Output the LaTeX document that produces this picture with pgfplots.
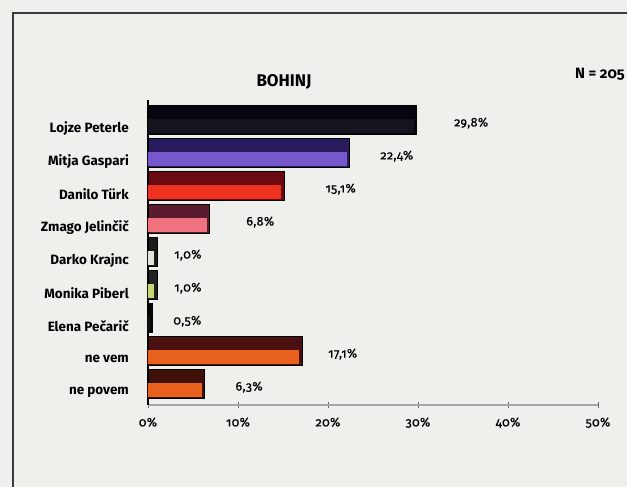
\documentclass[border=0pt]{standalone}
\usepackage{pgfplots}
\pgfplotsset{compat=1.18}
\usepackage{fontspec}
\setmainfont{Fira Sans}[Numbers=OldStyle]
\newfontfamily\semib{Fira Sans}[Numbers=OldStyle, FakeBold=0.6, LetterSpace=3]
\newfontfamily\nfont{Fira Sans Bold}[Numbers=OldStyle, LetterSpace=4]
\definecolor{bg}{HTML}{EFEFEC}
\definecolor{frame}{HTML}{3A3A3A}
\definecolor{lojD}{HTML}{050510}\definecolor{lojM}{HTML}{14141E}
\definecolor{mitD}{HTML}{2A1A5E}\definecolor{mitM}{HTML}{7658CC}
\definecolor{danD}{HTML}{6A0A12}\definecolor{danM}{HTML}{EE3220}
\definecolor{zmaD}{HTML}{5A1A30}\definecolor{zmaM}{HTML}{F0727E}
\definecolor{darD}{HTML}{1A1A1A}\definecolor{darM}{HTML}{E2E4DA}
\definecolor{monD}{HTML}{222222}\definecolor{monM}{HTML}{C6D676}
\definecolor{eleD}{HTML}{050505}\definecolor{eleM}{HTML}{151515}
\definecolor{nevD}{HTML}{4A1010}\definecolor{nevM}{HTML}{E8621E}
\definecolor{nepD}{HTML}{3E1008}\definecolor{nepM}{HTML}{E8621E}
\begin{document}
\begin{tikzpicture}[x=1bp,y=1bp]
\fill[bg] (-148,-82) rectangle (479,405);
\draw[line width=2.2bp, color=frame] (-135,-82) -- (-135,392) -- (479,392);
\begin{axis}[
  at={(0,0)}, anchor=south west,
  scale only axis, width=450bp, height=305bp,
  xmin=0, xmax=50, ymin=-8.39, ymax=0.85,
  axis x line=bottom, axis y line=left,
  x axis line style={-, draw=gray!70, line width=2.4bp},
  y axis line style={-, draw=black, line width=1.4bp},
  xtick={0,10,20,30,40,50},
  xticklabel={\pgfmathprintnumber{\tick}\%},
  /pgf/number format/assume math mode=true,
  xticklabel style={font=\semib\fontsize{12.5}{14}\selectfont, yshift=-6bp},
  xtick style={draw=gray!80!black, line width=0.8bp},
  major tick length=6bp, tick align=center,
  ytick={-8,-7,-6,-5,-4,-3,-2,-1,0},
  yticklabels={ne povem, ne vem, Elena Pečarič, Monika Piberl, Darko Krajnc, Zmago Jelinčič, Danilo Türk, Mitja Gaspari, Lojze Peterle},
  yticklabel style={font=\bfseries\fontsize{13.5}{15}\selectfont, inner sep=0pt, anchor=east, xshift=-16bp},
  ytick style={draw=none},
  clip=true,
]
% dark full bars and coloured lower parts
\addplot[xbar, bar width=29bp, bar shift=8bp, fill=lojD, draw=black, line width=0.6bp] coordinates {(29.8,0)};
\addplot[xbar, bar width=14bp, bar shift=2bp, fill=lojM, draw=none, xshift=-2.5bp] coordinates {(29.8,0)};
\addplot[xbar, bar width=29bp, bar shift=8bp, fill=mitD, draw=black, line width=0.6bp] coordinates {(22.4,-1)};
\addplot[xbar, bar width=14bp, bar shift=2bp, fill=mitM, draw=none, xshift=-2.5bp] coordinates {(22.4,-1)};
\addplot[xbar, bar width=29bp, bar shift=8bp, fill=danD, draw=black, line width=0.6bp] coordinates {(15.1,-2)};
\addplot[xbar, bar width=14bp, bar shift=2bp, fill=danM, draw=none, xshift=-2.5bp] coordinates {(15.1,-2)};
\addplot[xbar, bar width=29bp, bar shift=8bp, fill=zmaD, draw=black, line width=0.6bp] coordinates {(6.8,-3)};
\addplot[xbar, bar width=14bp, bar shift=2bp, fill=zmaM, draw=none, xshift=-2.5bp] coordinates {(6.8,-3)};
\addplot[xbar, bar width=29bp, bar shift=8bp, fill=darD, draw=black, line width=0.6bp] coordinates {(1.0,-4)};
\addplot[xbar, bar width=14bp, bar shift=2bp, fill=darM, draw=none, xshift=-2.5bp] coordinates {(1.0,-4)};
\addplot[xbar, bar width=29bp, bar shift=8bp, fill=monD, draw=black, line width=0.6bp] coordinates {(1.0,-5)};
\addplot[xbar, bar width=14bp, bar shift=2bp, fill=monM, draw=none, xshift=-2.5bp] coordinates {(1.0,-5)};
\addplot[xbar, bar width=29bp, bar shift=8bp, fill=eleD, draw=black, line width=0.6bp] coordinates {(0.5,-6)};
\addplot[xbar, bar width=14bp, bar shift=2bp, fill=eleM, draw=none, xshift=-2.5bp] coordinates {(0.5,-6)};
\addplot[xbar, bar width=29bp, bar shift=8bp, fill=nevD, draw=black, line width=0.6bp] coordinates {(17.1,-7)};
\addplot[xbar, bar width=14bp, bar shift=2bp, fill=nevM, draw=none, xshift=-2.5bp] coordinates {(17.1,-7)};
\addplot[xbar, bar width=29bp, bar shift=8bp, fill=nepD, draw=black, line width=0.6bp] coordinates {(6.3,-8)};
\addplot[xbar, bar width=14bp, bar shift=2bp, fill=nepM, draw=none, xshift=-2.5bp] coordinates {(6.3,-8)};
% value labels
\addplot[only marks, mark=none, point meta=explicit,
  nodes near coords={\pgfmathprintnumber[fixed,fixed zerofill,precision=1,use comma]{\pgfplotspointmeta}\%},
  nodes near coords align=horizontal,
  every node near coord/.append style={font=\semib\fontsize{12.5}{14}\selectfont, inner sep=0pt, anchor=west, yshift=5bp}]
  coordinates {(34.0,0)[29.8] (25.8,-1)[22.4] (19.7,-2)[15.1] (10.9,-3)[6.8] (2.9,-4)[1.0] (2.9,-5)[1.0] (2.8,-6)[0.5] (20.0,-7)[17.1] (9.7,-8)[6.3]};
\end{axis}
\node[font=\bfseries\fontsize{17}{20}\selectfont] at (136,323) {BOHINJ};
\node[font=\bfseries\fontsize{15}{17}\selectfont, anchor=east, inner sep=0pt] at (477,331) {N = 205};
\pgfresetboundingbox
\useasboundingbox (-148,-82) rectangle (479,405);
\end{tikzpicture}
\end{document}
